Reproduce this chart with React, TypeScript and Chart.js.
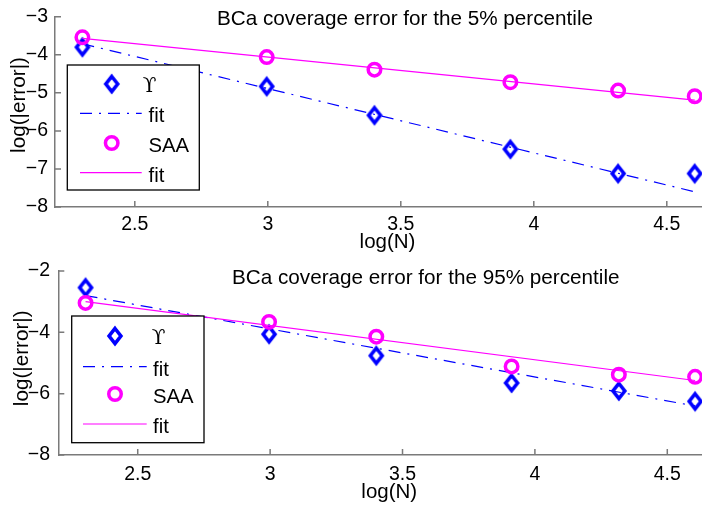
import React, { useEffect, useRef } from "react";
import { Chart, registerables } from "chart.js";

Chart.register(...registerables);

// ---------- data ----------
const LOG_N = [2.303, 2.996, 3.401, 3.912, 4.317, 4.605];
const FIT_X = [2.303, 4.605];
const X_TICKS = [2.5, 3, 3.5, 4, 4.5];
const X_MIN = 2.2;
const X_MAX = 4.7;

const TOP_UPS = [-3.8, -4.83, -5.59, -6.48, -7.12, -7.12];
const TOP_UPS_FIT = [-3.71, -7.6];
const TOP_SAA = [-3.54, -4.06, -4.39, -4.72, -4.94, -5.09];
const TOP_SAA_FIT = [-3.57, -5.19];
const TOP_Y_TICKS = [-8, -7, -6, -5, -4, -3];

const BOT_UPS = [-2.54, -4.06, -4.76, -5.65, -5.91, -6.25];
const BOT_UPS_FIT = [-2.8, -6.4];
const BOT_SAA = [-3.04, -3.66, -4.14, -5.11, -5.38, -5.45];
const BOT_SAA_FIT = [-3.0, -5.57];
const BOT_Y_TICKS = [-8, -6, -4, -2];

const LEGEND_LABELS = ["\u03D2", "fit", "SAA", "fit"];
const TITLES = [
  "BCa coverage error for the 5% percentile",
  "BCa coverage error for the 95% percentile",
];
const X_LABEL = "log(N)";
const Y_LABEL = "log(|error|)";

// ---------- styles ----------
const BLUE = "#0000ff";
const MAGENTA = "#ff00ff";
const AXIS = "#7a7a7a";
const FONT = "'Liberation Sans', Arial, Helvetica, sans-serif";
const DASHDOT = [12, 7, 2, 7];
const CANVAS_W = 730;
const CANVAS_H = 253;

function makeDiamond(): HTMLCanvasElement {
  const c = document.createElement("canvas");
  c.width = 24;
  c.height = 26;
  const ctx = c.getContext("2d")!;
  ctx.strokeStyle = BLUE;
  ctx.lineWidth = 3.6;
  ctx.lineJoin = "miter";
  const cx = 12, cy = 13, hw = 5.9, hh = 7.5;
  ctx.beginPath();
  ctx.moveTo(cx, cy - hh);
  ctx.lineTo(cx + hw, cy);
  ctx.lineTo(cx, cy + hh);
  ctx.lineTo(cx - hw, cy);
  ctx.closePath();
  ctx.stroke();
  return c;
}

type PanelCfg = {
  ups: number[];
  upsFit: number[];
  saa: number[];
  saaFit: number[];
  yTicks: number[];
  yMin: number;
  yMax: number;
  title: string;
  titleX: number;
  titleBaseline: number;
  left: number;
  top: number;
  xHeight: number;
  rightPad: number;
  yTickPad: number;
  xTickPad: number;
  xTitlePadBottom: number;
  yLabelX: number;
  yLabelY: number;
  legend: {
    x0: number; y0: number; x1: number; y1: number;
    markerX: number; lineX0: number; lineX1: number;
    symX: number; textX: number; rows: number[];
  };
};

const PANELS: PanelCfg[] = [
  {
    ups: TOP_UPS, upsFit: TOP_UPS_FIT, saa: TOP_SAA, saaFit: TOP_SAA_FIT,
    yTicks: TOP_Y_TICKS, yMin: -8, yMax: -3,
    title: TITLES[0], titleX: 217, titleBaseline: 24.7,
    left: 55, top: 16, xHeight: 46, rightPad: 10,
    yTickPad: 7, xTickPad: 8, xTitlePadBottom: 0,
    yLabelX: 19.5, yLabelY: 105,
    legend: {
      x0: 67.3, y0: 65, x1: 199.3, y1: 190,
      markerX: 111.7, lineX0: 80, lineX1: 141.7,
      symX: 142.7, textX: 148.5, rows: [84, 113.3, 143, 172.7],
    },
  },
  {
    ups: BOT_UPS, upsFit: BOT_UPS_FIT, saa: BOT_SAA, saaFit: BOT_SAA_FIT,
    yTicks: BOT_Y_TICKS, yMin: -8, yMax: -2,
    title: TITLES[1], titleX: 232, titleBaseline: 31.3,
    left: 58.3, top: 15.3, xHeight: 51, rightPad: 8.4,
    yTickPad: 8.3, xTickPad: 10, xTitlePadBottom: 3,
    yLabelX: 22, yLabelY: 105.3,
    legend: {
      x0: 71.7, y0: 63, x1: 204, y1: 189.7,
      markerX: 115, lineX0: 83, lineX1: 146.7,
      symX: 151.7, textX: 153, rows: [83, 113.7, 141, 171],
    },
  },
];

function fmt(v: number): string {
  const s = String(v);
  return v < 0 ? "\u2212" + s.slice(1) : s;
}

function Panel({ cfg }: { cfg: PanelCfg }) {
  const ref = useRef<HTMLCanvasElement | null>(null);

  useEffect(() => {
    const canvas = ref.current;
    if (!canvas) return;
    const diamond = makeDiamond();

    const decor = {
      id: "decor",
      afterDatasetsDraw(chart: any) {
        const ctx: CanvasRenderingContext2D = chart.ctx;
        const { left, bottom } = chart.chartArea;
        const xs = chart.scales.x;
        const ys = chart.scales.y;
        ctx.save();
        // inward tick marks
        ctx.strokeStyle = AXIS;
        ctx.lineWidth = 1.5;
        ctx.beginPath();
        xs.ticks.forEach((t: any) => {
          const px = xs.getPixelForValue(t.value);
          ctx.moveTo(px, bottom);
          ctx.lineTo(px, bottom - 6);
        });
        ys.ticks.forEach((t: any) => {
          const py = ys.getPixelForValue(t.value);
          ctx.moveTo(left, py);
          ctx.lineTo(left + 6, py);
        });
        ctx.stroke();

        // legend
        const L = cfg.legend;
        ctx.fillStyle = "#ffffff";
        ctx.fillRect(L.x0, L.y0, L.x1 - L.x0, L.y1 - L.y0);
        ctx.strokeStyle = "#000000";
        ctx.lineWidth = 1.3;
        ctx.strokeRect(L.x0, L.y0, L.x1 - L.x0, L.y1 - L.y0);

        ctx.drawImage(diamond, L.markerX - diamond.width / 2, L.rows[0] - diamond.height / 2);
        ctx.strokeStyle = BLUE;
        ctx.lineWidth = 1.2;
        ctx.setLineDash(DASHDOT);
        ctx.beginPath();
        ctx.moveTo(L.lineX0, L.rows[1]);
        ctx.lineTo(L.lineX1, L.rows[1]);
        ctx.stroke();
        ctx.setLineDash([]);
        ctx.strokeStyle = MAGENTA;
        ctx.lineWidth = 3.5;
        ctx.beginPath();
        ctx.arc(L.markerX, L.rows[2], 6.25, 0, Math.PI * 2);
        ctx.stroke();
        ctx.lineWidth = 1.2;
        ctx.beginPath();
        ctx.moveTo(L.lineX0, L.rows[3]);
        ctx.lineTo(L.lineX1, L.rows[3]);
        ctx.stroke();

        ctx.fillStyle = "#000000";
        ctx.textAlign = "left";
        ctx.textBaseline = "alphabetic";
        ctx.font = "20px 'DejaVu Serif', serif";
        ctx.fillText(LEGEND_LABELS[0], L.symX, L.rows[0] + 8);
        ctx.font = `20.3px ${FONT}`;
        for (let i = 1; i < 4; i++) {
          ctx.fillText(LEGEND_LABELS[i], L.textX, L.rows[i] + 8.8);
        }

        // title
        ctx.font = `20.7px ${FONT}`;
        ctx.fillText(cfg.title, cfg.titleX, cfg.titleBaseline);

        // y axis label
        ctx.translate(cfg.yLabelX, cfg.yLabelY);
        ctx.rotate(-Math.PI / 2);
        ctx.textAlign = "center";
        ctx.textBaseline = "middle";
        ctx.font = `20.7px ${FONT}`;
        ctx.fillText(Y_LABEL, 0, 0);
        ctx.restore();
      },
    };

    const chart = new Chart(canvas, {
      type: "scatter",
      data: {
        datasets: [
          {
            label: "ups",
            data: LOG_N.map((x, i) => ({ x, y: cfg.ups[i] })),
            pointStyle: diamond as any,
            pointRadius: 8,
            showLine: false,
            order: 3,
          },
          {
            label: "ups fit",
            data: FIT_X.map((x, i) => ({ x, y: cfg.upsFit[i] })),
            showLine: true,
            borderColor: BLUE,
            borderWidth: 1.2,
            borderDash: DASHDOT,
            pointRadius: 0,
            order: 2,
          },
          {
            label: "SAA",
            data: LOG_N.map((x, i) => ({ x, y: cfg.saa[i] })),
            pointStyle: "circle",
            pointRadius: 6.25,
            pointBorderWidth: 3.5,
            pointBorderColor: MAGENTA,
            pointBackgroundColor: "rgba(0,0,0,0)",
            borderColor: MAGENTA,
            backgroundColor: "rgba(0,0,0,0)",
            borderWidth: 3.5,
            showLine: false,
            order: 1,
          },
          {
            label: "SAA fit",
            data: FIT_X.map((x, i) => ({ x, y: cfg.saaFit[i] })),
            showLine: true,
            borderColor: MAGENTA,
            borderWidth: 1.2,
            pointRadius: 0,
            order: 0,
          },
        ] as any,
      },
      options: {
        animation: false,
        responsive: false,
        devicePixelRatio: 1,
        events: [],
        layout: { padding: { left: 0, right: cfg.rightPad, top: cfg.top, bottom: 0 } },
        plugins: { legend: { display: false }, tooltip: { enabled: false }, title: { display: false } },
        scales: {
          x: {
            type: "linear",
            min: X_MIN,
            max: X_MAX,
            afterBuildTicks: (s: any) => {
              s.ticks = X_TICKS.map((v) => ({ value: v }));
            },
            afterFit: (s: any) => {
              s.height = cfg.xHeight;
            },
            grid: { display: true, drawOnChartArea: false, drawTicks: false },
            border: { display: true, color: AXIS, width: 1.5 },
            ticks: {
              padding: cfg.xTickPad,
              color: "#000",
              font: { family: FONT, size: 19.5, lineHeight: 1 },
              maxRotation: 0,
              callback: (v: any) => fmt(Number(v)),
            },
            title: {
              display: true,
              text: X_LABEL,
              color: "#000",
              font: { family: FONT, size: 20.5, lineHeight: 1 },
              padding: { top: 0, bottom: cfg.xTitlePadBottom },
            },
          },
          y: {
            type: "linear",
            min: cfg.yMin,
            max: cfg.yMax,
            afterBuildTicks: (s: any) => {
              s.ticks = cfg.yTicks.map((v) => ({ value: v }));
            },
            afterFit: (s: any) => {
              s.width = cfg.left;
            },
            grid: { display: true, drawOnChartArea: false, drawTicks: false },
            border: { display: true, color: AXIS, width: 1.5 },
            ticks: {
              padding: cfg.yTickPad,
              color: "#000",
              font: { family: FONT, size: 19.5, lineHeight: 1 },
              callback: (v: any) => fmt(Number(v)),
            },
            title: { display: false },
          },
        },
      } as any,
      plugins: [decor],
    });
    return () => chart.destroy();
  }, [cfg]);

  return (
    <canvas
      ref={ref}
      width={CANVAS_W}
      height={CANVAS_H}
      style={{ display: "block", width: CANVAS_W, height: CANVAS_H }}
    />
  );
}

export default function App() {
  return (
    <div
      style={{
        position: "absolute",
        left: 0,
        top: 0,
        width: 702,
        height: 506,
        overflow: "hidden",
        background: "#ffffff",
      }}
    >
      <div style={{ position: "absolute", left: 0, top: 0 }}>
        <Panel cfg={PANELS[0]} />
      </div>
      <div style={{ position: "absolute", left: 0, top: 253 }}>
        <Panel cfg={PANELS[1]} />
      </div>
    </div>
  );
}
